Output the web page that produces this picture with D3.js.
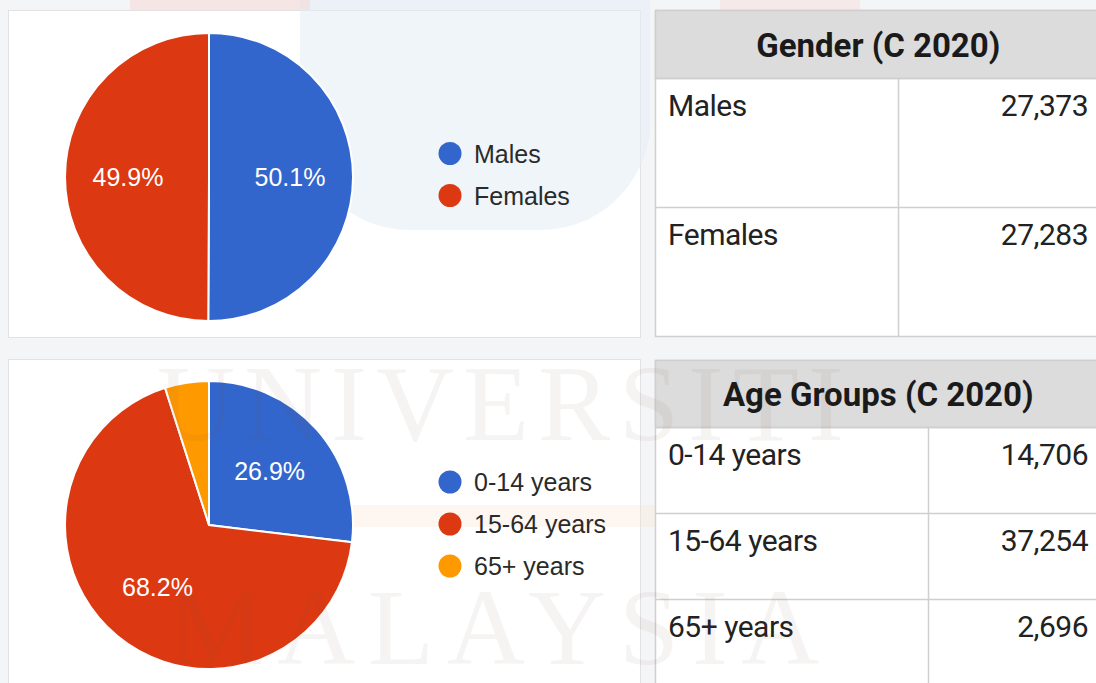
<!DOCTYPE html>
<html>
<head>
<meta charset="utf-8">
<script src="https://cdn.jsdelivr.net/npm/d3@7"></script>
<style>
  body { margin: 0; background: #f4f5f6; }
  svg { display: block; }
</style>
</head>
<body>
<svg id="chart" width="1096" height="683"></svg>
<script>
// data (census 2020)
const genderTitle = "Gender (C 2020)";
const genderLabels = ["Males", "Females"];
const genderValues = [27373, 27283];

const ageTitle = "Age Groups (C 2020)";
const ageLabels = ["0-14 years", "15-64 years", "65+ years"];
const ageValues = [14706, 37254, 2696];

const sliceColors = ["#3366cc", "#dc3912", "#ff9900"];

const svg = d3.select("#chart");
const fmt = d3.format(",");

// page background
svg.append("rect").attr("x", 0).attr("y", 0).attr("width", 1096).attr("height", 683).attr("fill", "#f4f5f6");

// cards
svg.append("rect").attr("x", 8.5).attr("y", 10.5).attr("width", 632).attr("height", 327)
  .attr("fill", "#ffffff").attr("stroke", "#e2e2e2");
svg.append("rect").attr("x", 8.5).attr("y", 359.5).attr("width", 632).attr("height", 330)
  .attr("fill", "#ffffff").attr("stroke", "#e2e2e2");

// faint logo watermark shapes
let wm = svg.append("g").attr("id", "watermark").style("pointer-events", "none");
wm.append("path")
  .attr("d", "M300,0 L650,0 L650,130 A110,110 0 0 1 540,230 L410,230 A110,110 0 0 1 300,120 Z")
  .attr("fill", "#e3ecf5").attr("opacity", 0.55);
wm.append("path")
  .attr("d", "M720,0 L860,0 L860,180 A70,60 0 0 1 720,180 Z")
  .attr("fill", "#f6c9c4").attr("opacity", 0.25);
wm.append("rect").attr("x", 130).attr("y", 0).attr("width", 180).attr("height", 10)
  .attr("fill", "#f6c9c4").attr("opacity", 0.35);
wm.append("rect").attr("x", 130).attr("y", 505).attr("width", 740).attr("height", 22)
  .attr("fill", "#fbe3cf").attr("opacity", 0.3);

function drawPie(cy, legendMid, labels, values) {
  const cx = 209, r = 144;
  const total = d3.sum(values);
  const color = d3.scaleOrdinal().domain(labels).range(sliceColors);
  const pie = d3.pie().sort(null).value(d => d.value);
  const arcs = pie(labels.map((l, i) => ({label: l, value: values[i]})));
  const arc = d3.arc().innerRadius(0).outerRadius(r);
  const labelArc = d3.arc().innerRadius(81).outerRadius(81);

  let g = svg.append("g").attr("transform", "translate(" + cx + "," + cy + ")");
  g.selectAll("path")
    .data(arcs)
    .join("path")
    .attr("d", arc)
    .attr("fill", d => color(d.data.label))
    .attr("stroke", "#ffffff")
    .attr("stroke-width", 2);

  g.selectAll("text")
    .data(arcs.filter(d => d.data.value / total > 0.1))
    .join("text")
    .attr("x", d => labelArc.centroid(d)[0])
    .attr("y", d => labelArc.centroid(d)[1])
    .attr("text-anchor", "middle")
    .attr("dominant-baseline", "central")
    .attr("fill", "#ffffff")
    .style("font", "25px 'Liberation Sans', Arial, sans-serif")
    .text(d => (d.data.value / total * 100).toFixed(1) + "%");

  // legend
  let leg = svg.append("g");
  let ly = d3.scalePoint().domain(labels).range([0, 42 * (labels.length - 1)]);
  let top = legendMid - 21 * (labels.length - 1);
  leg.selectAll("circle")
    .data(labels)
    .join("circle")
    .attr("cx", 450)
    .attr("cy", d => top + ly(d))
    .attr("r", 11.5)
    .attr("fill", d => color(d));
  leg.selectAll("text")
    .data(labels)
    .join("text")
    .attr("x", 474)
    .attr("y", d => top + ly(d))
    .attr("dominant-baseline", "central")
    .attr("fill", "#2a2a2a")
    .style("font", "25px 'Liberation Sans', Arial, sans-serif")
    .text(d => d);
}

function drawTable(title, labels, values, y0, headH, rowH, colX) {
  const x0 = 655.5, x1 = 1100;
  let g = svg.append("g");
  g.append("rect").attr("x", x0).attr("y", y0).attr("width", x1 - x0).attr("height", headH + rowH * labels.length)
    .attr("fill", "#ffffff").attr("stroke", "#cfcfcf").attr("stroke-width", 1.5);
  g.append("rect").attr("x", x0).attr("y", y0).attr("width", x1 - x0).attr("height", headH)
    .attr("fill", "#dcdcdc").attr("stroke", "#cfcfcf").attr("stroke-width", 1.5);
  g.append("text")
    .attr("x", (x0 + x1) / 2 + 0.5)
    .attr("y", y0 + headH / 2 + 12)
    .attr("text-anchor", "middle")
    .attr("fill", "#1a1a1a")
    .style("font", "bold 33px Roboto, sans-serif")
    .text(title);

  let rows = g.selectAll("g.row")
    .data(labels)
    .join("g")
    .attr("class", "row")
    .attr("transform", (d, i) => "translate(0," + (y0 + headH + i * rowH) + ")");
  rows.append("line")
    .attr("x1", x0).attr("x2", x1).attr("y1", 0).attr("y2", 0)
    .attr("stroke", "#cfcfcf").attr("stroke-width", 1.5);
  rows.append("line")
    .attr("x1", colX).attr("x2", colX).attr("y1", 0).attr("y2", rowH)
    .attr("stroke", "#cfcfcf").attr("stroke-width", 1.5);
  rows.append("text")
    .attr("x", 668)
    .attr("y", 37)
    .attr("fill", "#222222")
    .style("font", "30px Roboto, sans-serif")
    .style("letter-spacing", "-0.5px")
    .text(d => d);
  rows.append("text")
    .attr("x", 1088)
    .attr("y", 37)
    .attr("text-anchor", "end")
    .attr("fill", "#222222")
    .style("font", "30px Roboto, sans-serif")
    .style("letter-spacing", "-0.5px")
    .text((d, i) => fmt(values[i]));
}

drawPie(177, 174.5, genderLabels, genderValues);
drawPie(525, 524, ageLabels, ageValues);

drawTable(genderTitle, genderLabels, genderValues, 10.5, 68, 129, 898.5);
drawTable(ageTitle, ageLabels, ageValues, 360.5, 67, 86, 928.5);

// watermark text, very faint
let wt = svg.append("g").style("pointer-events", "none");
wt.append("text").attr("x", 505).attr("y", 440).attr("text-anchor", "middle")
  .attr("fill", "#7a4a40").attr("opacity", 0.06)
  .style("font", "108px 'Liberation Serif', serif").style("letter-spacing", "9px")
  .text("UNIVERSITI");
wt.append("text").attr("x", 500).attr("y", 664).attr("text-anchor", "middle")
  .attr("fill", "#7a4a40").attr("opacity", 0.06)
  .style("font", "108px 'Liberation Serif', serif").style("letter-spacing", "13px")
  .text("MALAYSIA");
</script>
</body>
</html>
